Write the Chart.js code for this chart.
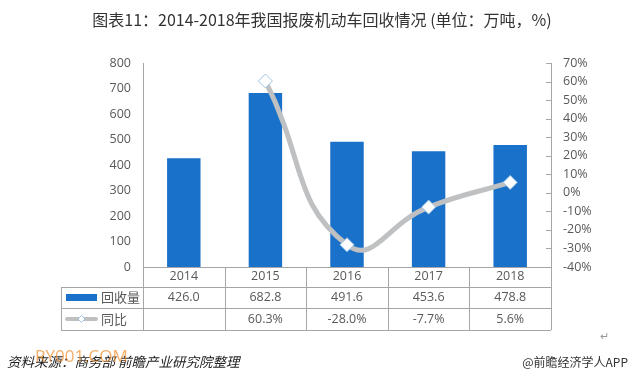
<!DOCTYPE html>
<html lang="zh">
<head>
<meta charset="UTF-8">
<title>报废机动车回收情况</title>
<script src="https://cdn.jsdelivr.net/npm/chart.js"></script>
<style>
    html, body { margin: 0; padding: 0; background: #fff; }
    #wrap { width: 640px; height: 384px; position: relative; }
</style>
</head>
<body>
<div id="wrap"><canvas id="grafico" width="640" height="384"></canvas></div>
<script>
    // dados
    var anos = ['2014', '2015', '2016', '2017', '2018'];
    var volume = [426.0, 682.8, 491.6, 453.6, 478.8];      // 万吨
    var variacao = [null, 60.3, -28.0, -7.7, 5.6];         // %
    var nomeVolume = '回收量';
    var nomeVariacao = '同比';

    var titulo = '图表11：2014-2018年我国报废机动车回收情况 (单位：万吨，%)';
    var fonte = '资料来源：商务部 前瞻产业研究院整理';
    var assinatura = '@前瞻经济学人APP';

    var fonteNum = '"Open Sans", "Noto Sans", "Noto Sans CJK SC", sans-serif';
    var fonteCJK = '"Noto Sans CJK SC", "Noto Sans", sans-serif';
    var corTexto = '#595959';
    var corLinha = '#a6a6a6';
    var azul = '#1a71c9';
    var cinza = '#bec0c2';

    // plugin que desenha titulo, tabela de dados e rodape
    var tabela = {
        id: 'tabela',
        afterDraw: function (chart) {
            var ctx = chart.ctx;
            var x = chart.scales.x;
            var y1 = chart.scales.y1;
            var area = chart.chartArea;
            var topo = area.bottom;
            var l1 = topo + 20, l2 = topo + 41, l3 = topo + 63;
            var esq = 61;
            var meio = (x.getPixelForValue(1) - x.getPixelForValue(0)) / 2;

            ctx.save();
            // titulo
            ctx.fillStyle = '#333';
            ctx.font = '16px ' + fonteCJK;
            ctx.textAlign = 'center';
            ctx.textBaseline = 'middle';
            ctx.fillText(titulo, 322, 20);

            // marcas do eixo direito (para dentro)
            ctx.strokeStyle = corLinha;
            ctx.lineWidth = 1;
            y1.ticks.forEach(function (t) {
                var py = Math.round(y1.getPixelForValue(t.value)) + 0.5;
                ctx.beginPath();
                ctx.moveTo(area.right - 5, py);
                ctx.lineTo(area.right, py);
                ctx.stroke();
            });

            // linhas da tabela
            ctx.beginPath();
            [l1, l2, l3].forEach(function (ly) {
                ctx.moveTo(esq, ly + 0.5);
                ctx.lineTo(area.right, ly + 0.5);
            });
            ctx.moveTo(esq + 0.5, l1);
            ctx.lineTo(esq + 0.5, l3);
            ctx.moveTo(Math.round(area.left) + 0.5, topo);
            ctx.lineTo(Math.round(area.left) + 0.5, l3);
            for (var i = 1; i < anos.length; i++) {
                var bx = Math.round(x.getPixelForValue(i) - meio) + 0.5;
                ctx.moveTo(bx, topo);
                ctx.lineTo(bx, l3);
            }
            ctx.moveTo(Math.round(area.right) + 0.5, topo);
            ctx.lineTo(Math.round(area.right) + 0.5, l3);
            ctx.stroke();

            // legenda na primeira coluna
            ctx.fillStyle = azul;
            ctx.fillRect(66, l1 + 7, 31, 7);
            ctx.strokeStyle = cinza;
            ctx.lineWidth = 4;
            ctx.lineCap = 'round';
            ctx.beginPath();
            ctx.moveTo(67, l2 + 11);
            ctx.lineTo(96, l2 + 11);
            ctx.stroke();
            ctx.lineCap = 'butt';
            ctx.fillStyle = '#fff';
            ctx.strokeStyle = '#9dc3e6';
            ctx.lineWidth = 1;
            ctx.beginPath();
            ctx.moveTo(81.5, l2 + 7.5);
            ctx.lineTo(85, l2 + 11);
            ctx.lineTo(81.5, l2 + 14.5);
            ctx.lineTo(78, l2 + 11);
            ctx.closePath();
            ctx.fill();
            ctx.stroke();

            ctx.fillStyle = corTexto;
            ctx.font = '13px ' + fonteCJK;
            ctx.textAlign = 'left';
            ctx.fillText(nomeVolume, 101, l1 + 10.5);
            ctx.fillText(nomeVariacao, 101, l2 + 11);

            // valores
            ctx.font = '12.5px ' + fonteNum;
            ctx.textAlign = 'center';
            for (var j = 0; j < anos.length; j++) {
                var cx = x.getPixelForValue(j);
                ctx.fillText(volume[j].toFixed(1), cx, l1 + 10.5);
                if (variacao[j] !== null) {
                    ctx.fillText(variacao[j].toFixed(1) + '%', cx, l2 + 11);
                }
            }

            // sinal de paragrafo
            ctx.fillStyle = '#999';
            ctx.font = '11px ' + fonteNum;
            ctx.fillText('\u21b5', 604, 337);

            // rodape
            ctx.textAlign = 'left';
            ctx.fillStyle = '#222';
            ctx.font = 'italic 13.5px ' + fonteCJK;
            ctx.fillText(fonte, 7, 362);
            ctx.fillStyle = 'rgba(240, 140, 40, 0.7)';
            ctx.font = '17px ' + fonteNum;
            ctx.fillText('RY001.COM', 35, 357);
            ctx.fillStyle = '#333';
            ctx.font = '12px ' + fonteCJK;
            ctx.textAlign = 'right';
            ctx.fillText(assinatura, 628, 362);
            ctx.restore();
        }
    };

    var config = {
        data: {
            labels: anos,
            datasets: [{
                type: 'line',
                label: nomeVariacao,
                data: variacao,
                yAxisID: 'y1',
                borderColor: cinza,
                borderWidth: 5,
                tension: 0.5,
                spanGaps: false,
                pointStyle: 'rectRot',
                pointRadius: 7,
                pointBackgroundColor: '#fff',
                pointBorderColor: '#9dc3e6',
                pointBorderWidth: 1,
                order: 0
            }, {
                type: 'bar',
                label: nomeVolume,
                data: volume,
                yAxisID: 'y',
                backgroundColor: azul,
                barPercentage: 0.41,
                categoryPercentage: 1,
                order: 1
            }]
        },
        options: {
            responsive: false,
            animation: false,
            layout: { padding: { top: 63, left: 0, right: 0, bottom: 0 } },
            plugins: {
                legend: { display: false },
                tooltip: { enabled: false }
            },
            scales: {
                x: {
                    offset: true,
                    grid: { display: false, drawTicks: false },
                    border: { display: true, color: corLinha },
                    ticks: { color: corTexto, font: { size: 12.5, family: fonteNum }, padding: 2 },
                    afterFit: function (s) { s.height = 117; }
                },
                y: {
                    position: 'left',
                    min: 0,
                    max: 800,
                    grid: { display: false, drawTicks: false },
                    border: { display: true, color: corLinha },
                    ticks: { stepSize: 100, color: corTexto, font: { size: 12.5, family: fonteNum }, padding: 12 },
                    afterFit: function (s) { s.width = 143; }
                },
                y1: {
                    position: 'right',
                    min: -40,
                    max: 70,
                    grid: { display: false, drawTicks: false },
                    border: { display: true, color: corLinha },
                    ticks: {
                        stepSize: 10,
                        color: corTexto,
                        font: { size: 12.5, family: fonteNum },
                        padding: 12,
                        callback: function (v) { return v + '%'; }
                    },
                    afterFit: function (s) { s.width = 89; }
                }
            }
        },
        plugins: [tabela]
    };

    var meuGrafico = new Chart(document.getElementById('grafico'), config);
</script>
</body>
</html>
